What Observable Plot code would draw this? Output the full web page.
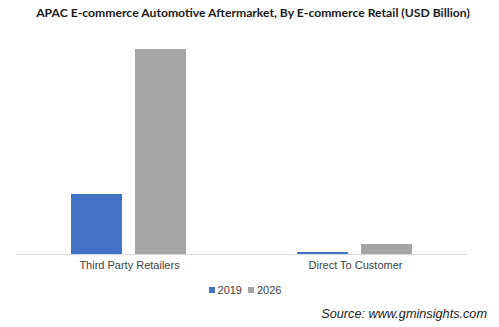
<!DOCTYPE html>
<html>
<head>
<meta charset="utf-8">
<script src="https://cdn.jsdelivr.net/npm/d3@7"></script>
<script src="https://cdn.jsdelivr.net/npm/@observablehq/plot@0.6"></script>
<style>
  html, body { margin: 0; padding: 0; background: #fff; }
  #wrap { position: relative; width: 499px; height: 327px; overflow: hidden; }
  #title { position: absolute; left: 0; top: 5px; width: 506px; text-align: center;
    font-family: Lato, "Open Sans", sans-serif; font-weight: 700; font-size: 12.2px; color: #1a1a1a; }
  #chart { position: absolute; left: 0; top: 0; }
  #legend { position: absolute; left: 0; top: 284px; width: 490px; text-align: center;
    font-family: "Liberation Sans", Arial, sans-serif; font-size: 11px; color: #404040; }
  #legend span.sw { display: inline-block; width: 6px; height: 6px; margin-right: 3px; vertical-align: 1px; }
  #legend span.item { margin: 0 3px; }
  #source { position: absolute; right: 12px; top: 307px;
    font-family: "Liberation Sans", Arial, sans-serif; font-style: italic; font-size: 12.7px; color: #1a1a1a; }
</style>
</head>
<body>
<div id="wrap">
  <div id="chart"></div>
  <div id="title">APAC E-commerce Automotive Aftermarket, By E-commerce Retail (USD Billion)</div>
  <div id="legend"></div>
  <div id="source">Source: www.gminsights.com</div>
</div>
<script>
const categories = ["Third Party Retailers", "Direct To Customer"];
const years = ["2019", "2026"];
const values2019 = [6.0, 0.2];
const values2026 = [20.5, 1.0];
const colors = ["#4472c4", "#a5a5a5"];

const data = [];
categories.forEach((c, i) => {
  data.push({category: c, year: years[0], value: values2019[i]});
  data.push({category: c, year: years[1], value: values2026[i]});
});

const chart = Plot.plot({
  width: 499,
  height: 280,
  marginTop: 49,
  marginBottom: 26,
  marginLeft: 16,
  marginRight: 31,
  style: {fontFamily: "'Liberation Sans', Arial, sans-serif", fontSize: "11px", color: "#404040", background: "transparent"},
  fx: {domain: categories, padding: 0, label: null, axis: "bottom", tickSize: 0, tickPadding: 7},
  x: {domain: years, paddingInner: 0.203, paddingOuter: 0.867, axis: null},
  y: {domain: [0, 20.5], axis: null},
  color: {domain: years, range: colors},
  marks: [
    Plot.barY(data, {fx: "category", x: "year", y: "value", fill: "year"}),
    Plot.ruleY([0], {stroke: "#d9d9d9", strokeWidth: 1})
  ]
});
document.getElementById("chart").appendChild(chart);

const legend = document.getElementById("legend");
years.forEach((y, i) => {
  const item = document.createElement("span");
  item.className = "item";
  const sw = document.createElement("span");
  sw.className = "sw";
  sw.style.background = colors[i];
  item.appendChild(sw);
  item.appendChild(document.createTextNode(y));
  legend.appendChild(item);
});
</script>
</body>
</html>
